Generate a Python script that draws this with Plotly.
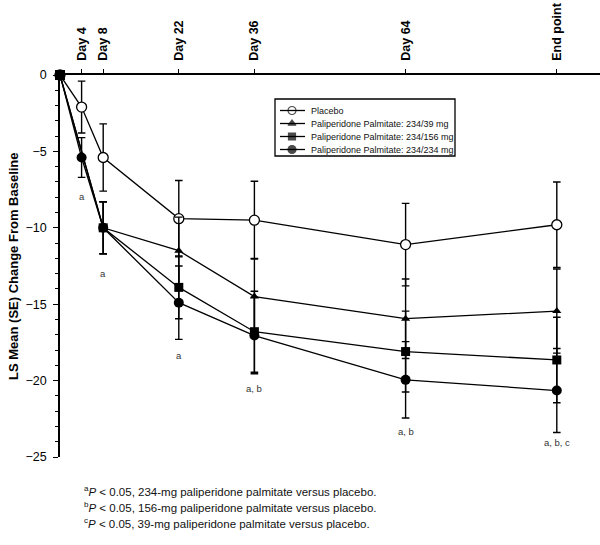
import plotly.graph_objects as go

# ---------------- data ----------------
tick_days = [4, 8, 22, 36, 64, 92]
tick_labels = ["Day 4", "Day 8", "Day 22", "Day 36", "Day 64", "End point"]

days_all = [0, 4, 8, 22, 36, 64, 92]
days_late = [0, 8, 22, 36, 64, 92]

placebo = [0, -2.1, -5.4, -9.4, -9.5, -11.1, -9.8]
placebo_se = [0, 1.7, 2.2, 2.5, 2.55, 2.7, 2.8]

pp39 = [0, -10.0, -11.5, -14.5, -15.95, -15.45]
pp39_se = [0, 1.7, 2.2, 2.5, 2.6, 2.75]

pp156 = [0, -10.0, -13.9, -16.8, -18.1, -18.65]
pp156_se = [0, 1.7, 2.05, 2.65, 2.65, 2.8]

pp234 = [0, -5.4, -10.0, -14.9, -17.05, -19.95, -20.65]
pp234_se = [0, 1.3, 1.7, 2.4, 2.5, 2.5, 2.75]

sig_days = [4, 8, 22, 36, 64, 92]
sig_labels = ["a", "a", "a", "a, b", "a, b", "a, b, c"]
sig_y = [-7.92, -12.96, -18.37, -20.5, -23.3, -24.08]

legend_names = ["Placebo", "Paliperidone Palmitate: 234/39 mg",
                "Paliperidone Palmitate: 234/156 mg", "Paliperidone Palmitate: 234/234 mg"]

footnotes = [
    "<sup>a</sup><i>P</i> < 0.05, 234-mg paliperidone palmitate versus placebo.",
    "<sup>b</sup><i>P</i> < 0.05, 156-mg paliperidone palmitate versus placebo.",
    "<sup>c</sup><i>P</i> < 0.05, 39-mg paliperidone palmitate versus placebo.",
]

FONT = "Liberation Sans, Arial, sans-serif"
BLACK = "black"

PLOT_L, PLOT_T, PLOT_W, PLOT_H = 60, 75, 540, 382


def px_x(px):
    return (px - PLOT_L) / PLOT_W


def px_y(py):
    return (PLOT_T + PLOT_H - py) / PLOT_H


def err(arr):
    return dict(type="data", array=arr, visible=True, color=BLACK, thickness=1.4, width=3.8)


fig = go.Figure()

fig.add_trace(go.Scatter(
    x=days_all, y=placebo, mode="lines+markers", name=legend_names[0],
    line=dict(color=BLACK, width=1.3),
    marker=dict(symbol="circle", size=10, color="white", line=dict(color=BLACK, width=1.3)),
    error_y=err(placebo_se), cliponaxis=False, showlegend=False))

fig.add_trace(go.Scatter(
    x=days_late, y=pp39, mode="lines+markers", name=legend_names[1],
    line=dict(color=BLACK, width=1.3),
    marker=dict(symbol="triangle-up", size=8, color=BLACK),
    error_y=err(pp39_se), cliponaxis=False, showlegend=False))

fig.add_trace(go.Scatter(
    x=days_late, y=pp156, mode="lines+markers", name=legend_names[2],
    line=dict(color=BLACK, width=1.3),
    marker=dict(symbol="square", size=9, color=BLACK),
    error_y=err(pp156_se), cliponaxis=False, showlegend=False))

fig.add_trace(go.Scatter(
    x=days_all, y=pp234, mode="lines+markers", name=legend_names[3],
    line=dict(color=BLACK, width=1.3),
    marker=dict(symbol=["square"] + ["circle"] * (len(days_all) - 1), size=10, color=BLACK),
    error_y=err(pp234_se), cliponaxis=False, showlegend=False))

# ---- hand-drawn legend on a pixel overlay axis ----
leg_x0, leg_x1, leg_y0, leg_y1 = 275, 455, 99, 156
row_y = [110.5, 123.5, 136.5, 149.5]
fig.add_trace(go.Scatter(
    x=[292] * 4, y=row_y, mode="markers", xaxis="x2", yaxis="y2",
    marker=dict(symbol=["circle", "triangle-up", "square", "circle"], size=[8, 7, 7, 8],
                color=["white", BLACK, BLACK, BLACK], line=dict(color=BLACK, width=1.2)),
    cliponaxis=False, showlegend=False, hoverinfo="skip"))

shapes = [dict(type="rect", xref="x2", yref="y2", x0=leg_x0, x1=leg_x1, y0=leg_y0, y1=leg_y1,
               line=dict(color=BLACK, width=1.3), fillcolor="white", layer="below")]
annotations = []
for name, yy in zip(legend_names, row_y):
    shapes.append(dict(type="line", xref="x2", yref="y2", x0=280, x1=305, y0=yy, y1=yy,
                       line=dict(color=BLACK, width=1.3)))
    annotations.append(dict(xref="x2", yref="y2", x=309, y=yy, text=name, showarrow=False,
                            xanchor="left", yanchor="middle", font=dict(size=9, color="#111", family=FONT)))

for d, lab, yy in zip(sig_days, sig_labels, sig_y):
    annotations.append(dict(x=d, y=yy, text=lab, showarrow=False, xanchor="center", yanchor="middle",
                            font=dict(size=9.5, color="#333", family=FONT)))

for i, t in enumerate(footnotes):
    annotations.append(dict(xref="paper", yref="paper", x=px_x(82), y=px_y(491 + 16 * i), text=t,
                            showarrow=False, xanchor="left", yanchor="middle",
                            font=dict(size=11.5, color="#111", family=FONT)))

annotations.append(dict(xref="paper", yref="paper", x=px_x(13), y=0.5,
                        xanchor="center", yanchor="middle",
                        text="<b>LS Mean (SE) Change From Baseline</b>", textangle=-90, showarrow=False,
                        font=dict(size=13, color=BLACK, family=FONT)))

fig.update_layout(
    width=600, height=545,
    margin=dict(l=PLOT_L, r=0, t=PLOT_T, b=545 - PLOT_T - PLOT_H, pad=0, autoexpand=False),
    paper_bgcolor="white", plot_bgcolor="white",
    font=dict(family=FONT, color=BLACK),
    showlegend=False,
    xaxis=dict(range=[0, 100], side="top", tickmode="array", tickvals=tick_days, ticktext=tick_labels,
               tickangle=-90, ticks="outside", ticklen=4, tickwidth=1.3, tickcolor=BLACK,
               tickfont=dict(size=12.5, family="Liberation Sans, Arial", color=BLACK, weight="bold"),
               showline=True, linecolor=BLACK, linewidth=1.5, showgrid=False, zeroline=False,
               ticklabelstandoff=6),
    yaxis=dict(range=[-25, 0], tickmode="array", tickvals=[0, -5, -10, -15, -20, -25],
               ticks="outside", ticklen=5, tickwidth=1.3, tickcolor=BLACK,
               minor=dict(tickmode="array", tickvals=[v for v in range(-24, 0) if v % 5 != 0],
                          ticks="outside", ticklen=3, tickwidth=1.1, tickcolor=BLACK),
               tickfont=dict(size=12.5, color=BLACK), showline=True, linecolor=BLACK, linewidth=1.5,
               showgrid=False, zeroline=False, ticklabelstandoff=4),
    xaxis2=dict(range=[60, 600], overlaying="x", visible=False),
    yaxis2=dict(range=[457, 75], overlaying="y", visible=False),
    shapes=shapes, annotations=annotations,
)

# remove the browser's default 8px body margin so the figure sits at the page origin
fig.write_html("out.html",
               config={"displayModeBar": False},
               post_script="document.body.style.margin='0';document.body.style.overflow='hidden';")
